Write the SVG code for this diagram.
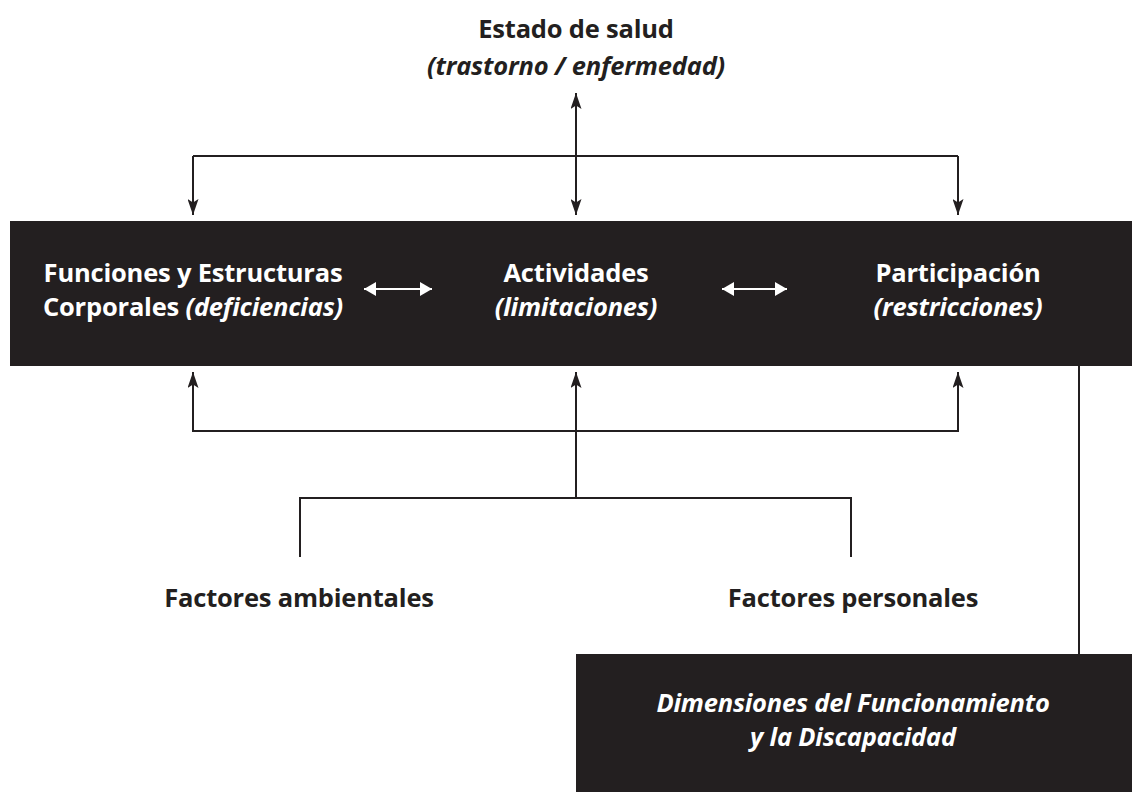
<svg xmlns="http://www.w3.org/2000/svg" width="1132" height="792" viewBox="0 0 1132 792">
<style>
  text { font-family: "Open Sans", "Noto Sans", "Liberation Sans", sans-serif; font-weight: bold; font-size: 25.5px; text-anchor: middle; letter-spacing: -0.2px; }
  .dark { fill: #231f20; }
  .wt { fill: #ffffff; }
  .it { font-style: italic; }
  .ln { fill: none; stroke: #231f20; stroke-width: 2; }
  .wl { fill: none; stroke: #ffffff; stroke-width: 2.2; }
</style>
<defs>
  <marker id="ah" viewBox="0 0 16 11" refX="16" refY="5.5" markerWidth="16" markerHeight="11" markerUnits="userSpaceOnUse" orient="auto-start-reverse">
    <path d="M0,0 L16,5.5 L0,11 L3.5,5.5 Z" fill="#231f20"/>
  </marker>
  <marker id="wh" viewBox="0 0 12 14" refX="12" refY="7" markerWidth="12" markerHeight="14" markerUnits="userSpaceOnUse" orient="auto-start-reverse">
    <path d="M0,0 L12,7 L0,14 Z" fill="#ffffff"/>
  </marker>
</defs>
<rect width="1132" height="792" fill="#ffffff"/>

<g id="estado-salud">
  <text x="576" y="38" class="dark">Estado de salud</text>
  <text x="576" y="75" class="dark it">(trastorno / enfermedad)</text>
</g>

<g id="componentes">
  <rect x="10" y="221" width="1122" height="145" fill="#231f20"/>
  <g id="funciones">
    <text x="193" y="282" class="wt">Funciones y Estructuras</text>
    <text x="193" y="316" class="wt">Corporales <tspan class="it">(deficiencias)</tspan></text>
  </g>
  <g id="actividades">
    <text x="576" y="282" class="wt">Actividades</text>
    <text x="576" y="316" class="wt it">(limitaciones)</text>
  </g>
  <g id="participacion">
    <text x="958" y="282" class="wt">Participación</text>
    <text x="958" y="316" class="wt it">(restricciones)</text>
  </g>
</g>

<g id="factores-ambientales">
  <text x="299" y="607" class="dark">Factores ambientales</text>
</g>
<g id="factores-personales">
  <text x="853" y="607" class="dark">Factores personales</text>
</g>

<g id="dimensiones">
  <rect x="576" y="654" width="556" height="138" fill="#231f20"/>
  <text x="853" y="712" class="wt it">Dimensiones del Funcionamiento</text>
  <text x="853" y="746" class="wt it">y la Discapacidad</text>
</g>

<g id="connectors">
  <!-- top -->
  <path class="ln" d="M193,156 H958"/>
  <path class="ln" d="M193,156 V215" marker-end="url(#ah)"/>
  <path class="ln" d="M958,156 V215" marker-end="url(#ah)"/>
  <path class="ln" d="M576,93 V215" marker-start="url(#ah)" marker-end="url(#ah)"/>
  <!-- inside box -->
  <path class="wl" d="M364,289 H432" marker-start="url(#wh)" marker-end="url(#wh)"/>
  <path class="wl" d="M722,289 H787" marker-start="url(#wh)" marker-end="url(#wh)"/>
  <!-- bottom -->
  <path class="ln" d="M193,372 V431 H958 V372" marker-start="url(#ah)" marker-end="url(#ah)"/>
  <path class="ln" d="M576,498 V372" marker-end="url(#ah)"/>
  <path class="ln" d="M300,557 V498 H851 V557"/>
  <!-- right -->
  <path class="ln" d="M1079,366 V654" stroke-width="1.5"/>
</g>
</svg>
